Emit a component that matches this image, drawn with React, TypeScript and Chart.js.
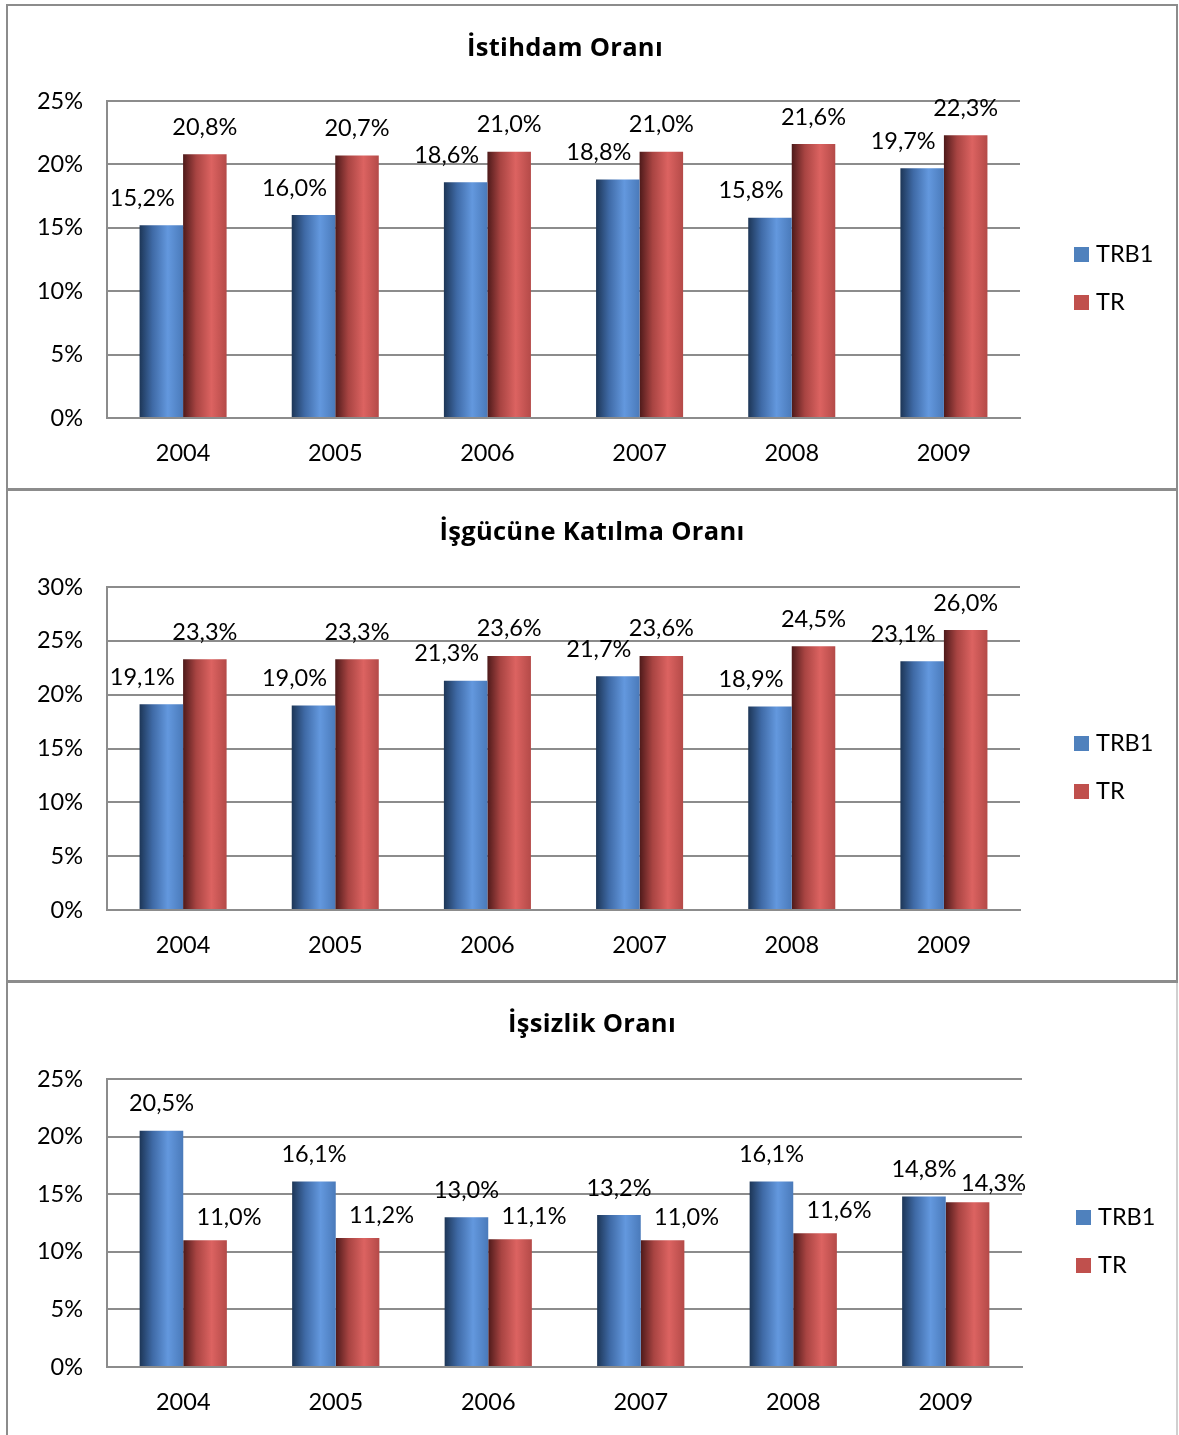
import React, { useEffect, useRef } from "react";
import { Chart, registerables } from "chart.js";
Chart.register(...registerables);

const years = ["2004", "2005", "2006", "2007", "2008", "2009"];
const seriesNames = ["TRB1", "TR"];
const istihdamTRB1 = [15.2, 16.0, 18.6, 18.8, 15.8, 19.7];
const istihdamTR = [20.8, 20.7, 21.0, 21.0, 21.6, 22.3];
const katilmaTRB1 = [19.1, 19.0, 21.3, 21.7, 18.9, 23.1];
const katilmaTR = [23.3, 23.3, 23.6, 23.6, 24.5, 26.0];
const issizlikTRB1 = [20.5, 16.1, 13.0, 13.2, 16.1, 14.8];
const issizlikTR = [11.0, 11.2, 11.1, 11.0, 11.6, 14.3];
const titles = ["İstihdam Oranı", "İşgücüne Katılma Oranı", "İşsizlik Oranı"];
const axisMax = [25, 30, 25];

const FONT = "Lato, 'Noto Sans', sans-serif";
const TITLE_FONT = "'Open Sans', 'Noto Sans', sans-serif";
const FS = 23.5;
const GRID = "#8c8c8c";
const legendColors = ["#4f81bd", "#c0504d"];
const blueStops: [number, string][] = [
  [0, "#1d3657"],
  [0.3, "#3f6aa6"],
  [0.65, "#6398de"],
  [1, "#4a7aba"],
];
const redStops: [number, string][] = [
  [0, "#4e1a1a"],
  [0.3, "#a84442"],
  [0.65, "#dc6361"],
  [1, "#b44a48"],
];

const fmt = (v: number) => v.toFixed(1).replace(".", ",") + "%";

const gradPlugin = {
  id: "barGrad",
  beforeDatasetsDraw(chart: any) {
    const ctx = chart.ctx;
    chart.data.datasets.forEach((_ds: any, di: number) => {
      const stops = di === 0 ? blueStops : redStops;
      chart.getDatasetMeta(di).data.forEach((el: any) => {
        const l = el.x - el.width / 2;
        const r = el.x + el.width / 2;
        const g = ctx.createLinearGradient(l, 0, r, 0);
        stops.forEach(([o, c]) => g.addColorStop(o, c));
        el.options = { ...el.options, backgroundColor: g };
      });
    });
  },
};

const valuePlugin = {
  id: "vals",
  afterDatasetsDraw(chart: any) {
    const ctx = chart.ctx;
    ctx.save();
    ctx.font = `${FS}px ${FONT}`;
    ctx.fillStyle = "#000";
    ctx.textAlign = "center";
    ctx.textBaseline = "middle";
    const m0 = chart.getDatasetMeta(0);
    const m1 = chart.getDatasetMeta(1);
    m0.data.forEach((b0: any, i: number) => {
      const b1 = m1.data[i];
      const v0 = chart.data.datasets[0].data[i];
      const v1 = chart.data.datasets[1].data[i];
      let x0 = b0.x, y0 = b0.y - 27;
      let x1 = b1.x, y1 = b1.y - 27;
      let s0 = false, s1 = false;
      if (y0 + 11 > b1.y) { x0 -= 19; s0 = true; }
      if (y1 + 11 > b0.y) { x1 += 24; y1 += 4; s1 = true; }
      if (!s0 && !s1 && Math.abs(y0 - y1) < 22) {
        if (v1 < v0) { x1 += 26; y1 += 8; } else { x0 -= 19; }
      }
      ctx.fillText(fmt(v0), x0, y0);
      ctx.fillText(fmt(v1), x1, y1);
    });
    ctx.restore();
  },
};

const legendPlugin = {
  id: "sideLegend",
  afterDraw(chart: any, _args: any, opts: any) {
    const ctx = chart.ctx;
    ctx.save();
    ctx.font = `${FS}px ${FONT}`;
    ctx.textBaseline = "middle";
    ctx.textAlign = "left";
    chart.data.datasets.forEach((ds: any, i: number) => {
      const y = opts.y + i * 48;
      ctx.fillStyle = legendColors[i];
      ctx.fillRect(opts.x, y - 7, 15, 15);
      ctx.fillStyle = "#000";
      ctx.fillText(ds.label, opts.x + 22, y);
    });
    ctx.restore();
  },
};

type PanelCfg = {
  top: number;
  height: number;
  areaTop: number;
  areaBottom: number;
  areaRight: number;
  titleX: number;
  titleY: number;
  legendX: number;
  legendY: number;
  bottomBorder: boolean;
  rightColor: string;
  a: number[];
  b: number[];
  max: number;
  title: string;
};

const panels: PanelCfg[] = [
  { top: 4, height: 485, areaTop: 101, areaBottom: 418, areaRight: 1020, titleX: 565, titleY: 46, legendX: 1074, legendY: 254, bottomBorder: true, rightColor: GRID, a: istihdamTRB1, b: istihdamTR, max: axisMax[0], title: titles[0] },
  { top: 489, height: 492, areaTop: 587, areaBottom: 910, areaRight: 1020, titleX: 592, titleY: 530, legendX: 1074, legendY: 743, bottomBorder: true, rightColor: GRID, a: katilmaTRB1, b: katilmaTR, max: axisMax[1], title: titles[1] },
  { top: 981, height: 454, areaTop: 1079, areaBottom: 1367, areaRight: 1022, titleX: 592, titleY: 1022, legendX: 1076, legendY: 1217, bottomBorder: false, rightColor: "#d0d0d0", a: issizlikTRB1, b: issizlikTR, max: axisMax[2], title: titles[2] },
];

const AREA_LEFT = 107;
const XAXIS_H = 60;

function Panel({ cfg }: { cfg: PanelCfg }) {
  const ref = useRef<HTMLCanvasElement>(null);
  useEffect(() => {
    const chart = new Chart(ref.current as HTMLCanvasElement, {
      type: "bar",
      data: {
        labels: years,
        datasets: [
          { label: seriesNames[0], data: cfg.a, backgroundColor: legendColors[0], borderWidth: 0 },
          { label: seriesNames[1], data: cfg.b, backgroundColor: legendColors[1], borderWidth: 0 },
        ],
      },
      options: {
        animation: false,
        responsive: false,
        devicePixelRatio: 1,
        categoryPercentage: 0.572,
        barPercentage: 1,
        layout: {
          padding: {
            top: cfg.areaTop - cfg.top,
            right: 1179 - cfg.areaRight,
            bottom: cfg.height - (cfg.areaBottom - cfg.top) - XAXIS_H,
            left: 0,
          },
        },
        plugins: {
          legend: { display: false },
          tooltip: { enabled: false },
          title: { display: false },
          sideLegend: { x: cfg.legendX, y: cfg.legendY - cfg.top },
        } as any,
        scales: {
          x: {
            grid: { display: false, drawTicks: false },
            border: { display: true, color: GRID, width: 2 },
            ticks: { color: "#000", font: { family: FONT, size: FS }, padding: 21, maxRotation: 0 },
            afterFit: (s: any) => { s.height = XAXIS_H; },
          },
          y: {
            min: 0,
            max: cfg.max,
            grid: { color: GRID, lineWidth: 2, drawTicks: false },
            border: { display: true, color: GRID, width: 2 },
            ticks: {
              stepSize: 5,
              color: "#000",
              font: { family: FONT, size: FS },
              padding: 24,
              callback: (v: any) => v + "%",
            },
            afterFit: (s: any) => { s.width = AREA_LEFT; },
          },
        },
      },
      plugins: [gradPlugin, valuePlugin, legendPlugin],
    });
    return () => chart.destroy();
  }, []);
  return (
    <div style={{ position: "absolute", left: 0, top: cfg.top, width: 1179, height: cfg.height }}>
      <canvas ref={ref} width={1179} height={cfg.height} style={{ display: "block", width: 1179, height: cfg.height }} />
      <div style={{ position: "absolute", left: 6, top: 0, width: 2, height: cfg.height, background: GRID }} />
      <div style={{ position: "absolute", left: 1176, top: 0, width: 2, height: cfg.height, background: cfg.rightColor }} />
      <div style={{ position: "absolute", left: 6, top: 0, width: 1172, height: 2, background: GRID }} />
      {cfg.bottomBorder && (
        <div style={{ position: "absolute", left: 6, top: cfg.height - 1, width: 1172, height: 2, background: GRID }} />
      )}
      <div
        style={{
          position: "absolute",
          left: cfg.titleX,
          top: cfg.titleY - cfg.top,
          transform: "translate(-50%, -50%)",
          font: `bold 25.5px ${TITLE_FONT}`,
          letterSpacing: "0.3px",
          color: "#000",
          whiteSpace: "nowrap",
        }}
      >
        {cfg.title}
      </div>
    </div>
  );
}

export default function App() {
  return (
    <div style={{ position: "absolute", left: 0, top: 0, width: 1179, height: 1435, overflow: "hidden", background: "#fff" }}>
      {panels.map((p, i) => (
        <Panel key={i} cfg={p} />
      ))}
    </div>
  );
}
